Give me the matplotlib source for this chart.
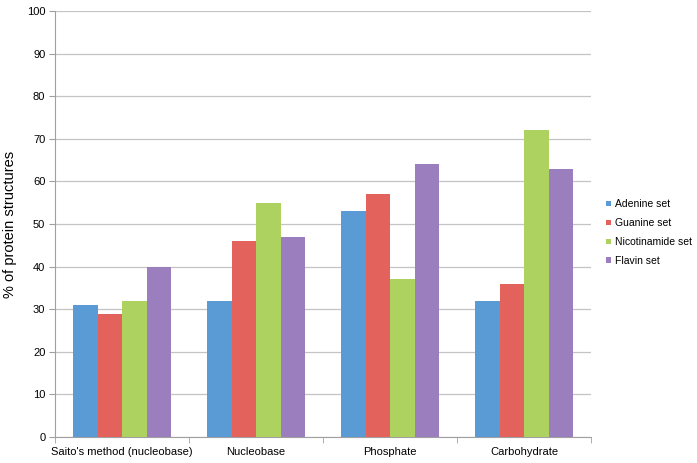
import numpy as np
import matplotlib
matplotlib.use("Agg")
import matplotlib.pyplot as plt

plt.rcParams['font.family'] = ['Liberation Sans', 'DejaVu Sans']

categories = ["Saito's method (nucleobase)", "Nucleobase", "Phosphate", "Carbohydrate"]
series_names = ["Adenine set", "Guanine set", "Nicotinamide set", "Flavin set"]
adenine = [31, 32, 53, 32]
guanine = [29, 46, 57, 36]
nicotinamide = [32, 55, 37, 72]
flavin = [40, 47, 64, 63]
colors = ["#5B9BD5", "#E3625B", "#ADD25F", "#9B7EBE"]

fig = plt.figure(figsize=(6.97, 4.63), dpi=100)
ax = fig.add_axes([0.079, 0.056, 0.769, 0.920])

x = np.arange(len(categories))
w = 0.183
for i, (vals, name) in enumerate(zip([adenine, guanine, nicotinamide, flavin], series_names)):
    ax.bar(x + (i - 1.5) * w, vals, w, color=colors[i], label=name, zorder=3)

ax.set_xlim(-0.5, len(categories) - 0.5)
ax.set_ylim(0, 100)
ax.set_yticks(range(0, 101, 10))
ax.yaxis.grid(True, color="#c4c4c4", linewidth=0.9, zorder=0)
ax.set_xticks(x)
ax.set_xticklabels(categories, fontsize=8)
ax.tick_params(axis="x", length=0, pad=7)
ax.set_xticks(np.arange(-0.5, len(categories)), minor=True)
ax.tick_params(axis="x", which="minor", length=4, color="#a0a0a0")
ax.tick_params(axis="y", labelsize=8, length=4, color="#a0a0a0", pad=3)
for s in ["top", "right"]:
    ax.spines[s].set_visible(False)
for s in ["left", "bottom"]:
    ax.spines[s].set_color("#a0a0a0")
ax.set_ylabel("% of protein structures", fontsize=10.5, labelpad=7)

ax.legend(loc="center left", bbox_to_anchor=(1.017, 0.48), frameon=False, fontsize=7.5,
          handlelength=0.45, handleheight=0.45, handletextpad=0.35, labelspacing=0.85,
          borderaxespad=0.2)

fig.savefig("out.png", dpi=100)
